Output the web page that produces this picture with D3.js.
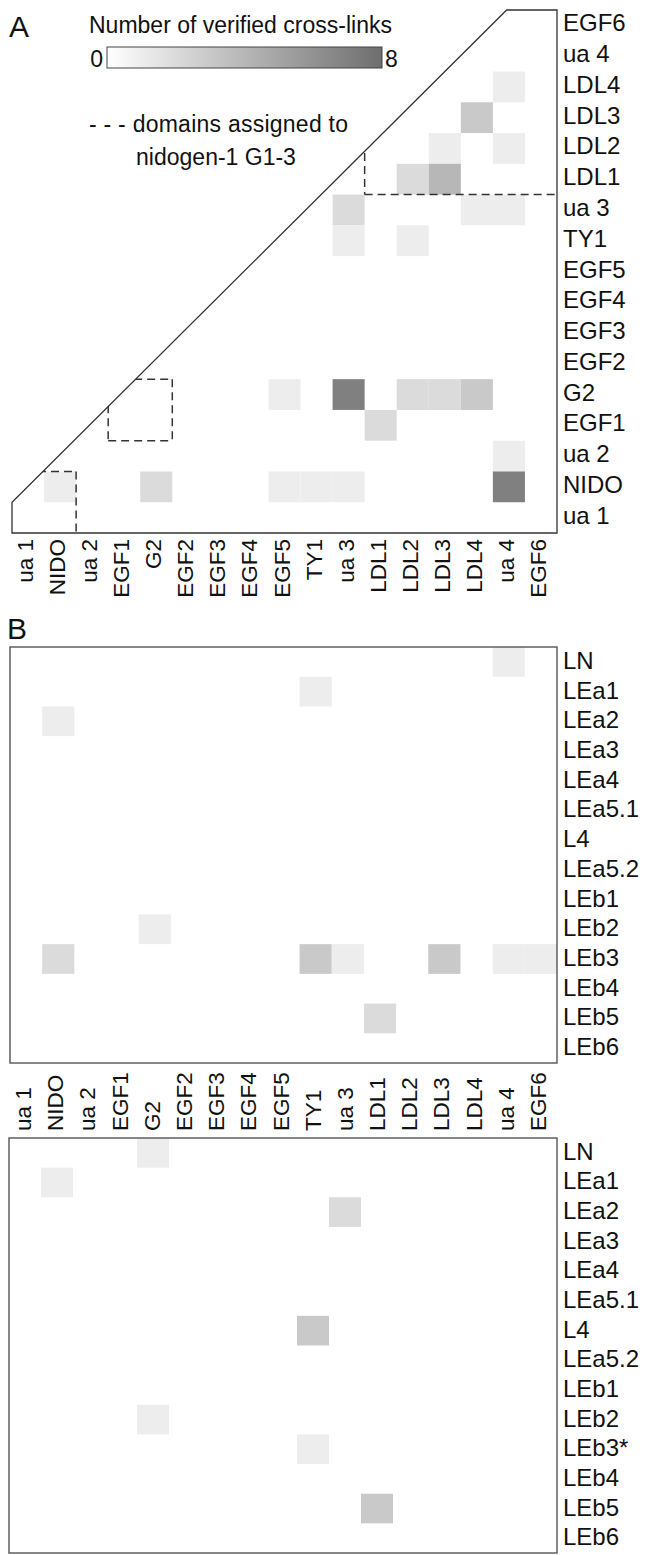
<!DOCTYPE html>
<html>
<head>
<meta charset="utf-8">
<script src="https://cdn.jsdelivr.net/npm/d3@7"></script>
<style>
  html, body { margin: 0; padding: 0; background: #fff; }
  svg { display: block; font-family: "Liberation Sans", Arial, Helvetica, sans-serif; }
</style>
</head>
<body>
<svg id="chart" width="646" height="1555"></svg>
<script>
// ---------- DATA ----------
const nidoDomains = ["ua 1","NIDO","ua 2","EGF1","G2","EGF2","EGF3","EGF4","EGF5","TY1","ua 3","LDL1","LDL2","LDL3","LDL4","ua 4","EGF6"];
const nidoRows = nidoDomains.slice().reverse();
const lamRowsTop = ["LN","LEa1","LEa2","LEa3","LEa4","LEa5.1","L4","LEa5.2","LEb1","LEb2","LEb3","LEb4","LEb5","LEb6"];
const lamRowsBottom = ["LN","LEa1","LEa2","LEa3","LEa4","LEa5.1","L4","LEa5.2","LEb1","LEb2","LEb3*","LEb4","LEb5","LEb6"];

// [row, column, number of verified cross-links]
const linksA = [
  ["LDL4","ua 4",1],
  ["LDL3","LDL4",3],
  ["LDL2","LDL3",1],["LDL2","ua 4",1],
  ["LDL1","LDL2",2],["LDL1","LDL3",4],
  ["ua 3","ua 3",2],["ua 3","LDL4",1],["ua 3","ua 4",1],
  ["TY1","ua 3",1],["TY1","LDL2",1],
  ["G2","EGF5",1],["G2","ua 3",7],["G2","LDL2",2],["G2","LDL3",2],["G2","LDL4",3],
  ["EGF1","LDL1",2],
  ["ua 2","ua 4",1],
  ["NIDO","NIDO",1],["NIDO","G2",2],["NIDO","EGF5",1],["NIDO","TY1",1],["NIDO","ua 3",1],["NIDO","ua 4",7]
];
const linksBTop = [
  ["LN","ua 4",1],["LEa1","TY1",1],["LEa2","NIDO",1],["LEb2","G2",1],
  ["LEb3","NIDO",2],["LEb3","TY1",3],["LEb3","ua 3",1],["LEb3","LDL3",3],["LEb3","ua 4",1],["LEb3","EGF6",1],
  ["LEb5","LDL1",2]
];
const linksBBottom = [
  ["LN","G2",1],["LEa1","NIDO",1],["LEa2","ua 3",2],["L4","TY1",3],
  ["LEb2","G2",1],["LEb3*","TY1",1],["LEb5","LDL1",3]
];
// nidogen-1 G1-3 domain groups: [first col, last col, top row, bottom row]
const globules = [
  ["ua 1","NIDO","NIDO","ua 1"],
  ["EGF1","G2","G2","EGF1"],
  ["LDL1","EGF6","EGF6","LDL1"]
];
const legendMin = 0, legendMax = 8;
const legendTitle = "Number of verified cross-links";
const legendDash = "- - - domains assigned to";
const legendDash2 = "nidogen-1 G1-3";

// ---------- DRAWING ----------
const svg = d3.select("#chart");
const color = d3.scaleLinear().domain([legendMin, legendMax]).range(["#ffffff", "#6e6e6e"]);
const txt = "#111";
const rowFont = 24, colFont = 22.5;

// Panel A scales
const A = {x0: 12, x1: 557, y0: 10, y1: 533};
const xA = d3.scaleBand().domain(nidoDomains).range([A.x0, A.x1]);
const yA = d3.scaleBand().domain(nidoRows).range([A.y0, A.y1]);

// triangle outline polygon
const diagBottomY = yA("ua 1");
const diagTopX = xA("ua 4") + xA.bandwidth() * 0.43;
const poly = [[A.x0, A.y1],[A.x0, diagBottomY],[diagTopX, A.y0],[A.x1, A.y0],[A.x1, A.y1]];

const defs = svg.append("defs");
defs.append("clipPath").attr("id","triClip")
  .append("polygon").attr("points", poly.map(p => p.join(",")).join(" "));

const gA = svg.append("g");
gA.append("g").attr("clip-path","url(#triClip)")
  .selectAll("rect").data(linksA).join("rect")
  .attr("x", d => xA(d[1])).attr("y", d => yA(d[0]))
  .attr("width", xA.bandwidth()).attr("height", yA.bandwidth())
  .attr("fill", d => color(d[2]));

// dashed boxes
const dashG = gA.append("g").attr("clip-path","url(#triClip)");
globules.forEach(g => {
  const xl = xA(g[0]), xr = xA(g[1]) + xA.bandwidth();
  const yt = yA(g[2]), yb = yA(g[3]) + yA.bandwidth();
  const segs = [];
  if (xl > A.x0 + 1) segs.push([[xl, yt],[xl, yb]]);
  if (yt > A.y0 + 1) segs.push([[xl, yt],[xr, yt]]);
  if (xr < A.x1 - 1) segs.push([[xr, yt],[xr, yb]]);
  if (yb < A.y1 - 1) segs.push([[xl, yb],[xr, yb]]);
  segs.forEach(s => dashG.append("line")
    .attr("x1", s[0][0]).attr("y1", s[0][1]).attr("x2", s[1][0]).attr("y2", s[1][1])
    .attr("stroke", "#333").attr("stroke-width", 1.5).attr("stroke-dasharray", "8,5"));
});

gA.append("polygon").attr("points", poly.map(p => p.join(",")).join(" "))
  .attr("fill","none").attr("stroke","#333").attr("stroke-width",1.3);

// row labels A
gA.append("g").selectAll("text").data(nidoRows).join("text")
  .attr("x", A.x1 + 6).attr("y", d => yA(d) + yA.bandwidth()/2 + 6)
  .attr("font-size", rowFont).attr("fill", txt).text(d => d);

// column labels A
gA.append("g").selectAll("text").data(nidoDomains).join("text")
  .attr("transform", d => `translate(${xA(d) + xA.bandwidth()/2 + 5},${A.y1 + 6}) rotate(-90)`)
  .attr("text-anchor","end").attr("font-size", colFont).attr("fill", txt).text(d => d);

// Panel letter + legend
svg.append("text").attr("x", 9).attr("y", 37).attr("font-size", 30).attr("fill", txt).text("A");
svg.append("text").attr("x", 89).attr("y", 33).attr("font-size", 23).attr("fill", txt).text(legendTitle);
const grad = defs.append("linearGradient").attr("id","lg").attr("x1","0%").attr("x2","100%");
grad.append("stop").attr("offset","0%").attr("stop-color", color(legendMin));
grad.append("stop").attr("offset","100%").attr("stop-color", color(legendMax));
const legX = d3.scaleLinear().domain([legendMin, legendMax]).range([107, 382]);
svg.append("rect").attr("x", legX(legendMin)).attr("y", 47).attr("width", legX(legendMax) - legX(legendMin)).attr("height", 21)
  .attr("fill","url(#lg)").attr("stroke","#444").attr("stroke-width",1);
svg.append("text").attr("x", legX(legendMin) - 4).attr("y", 67).attr("text-anchor","end").attr("font-size", 23).attr("fill", txt).text(legendMin);
svg.append("text").attr("x", legX(legendMax) + 3).attr("y", 67).attr("font-size", 23).attr("fill", txt).text(legendMax);
svg.append("text").attr("x", 89).attr("y", 132).attr("font-size", 23).attr("fill", txt)
  .attr("textLength", 259).attr("lengthAdjust", "spacing").text(legendDash);
svg.append("text").attr("x", 216).attr("y", 165).attr("text-anchor","middle").attr("font-size", 23).attr("fill", txt).text(legendDash2);

// ---------- Panel B ----------
svg.append("text").attr("x", 7).attr("y", 639).attr("font-size", 30).attr("fill", txt).text("B");

function matrix(frame, cellRange, rows, links) {
  const x = d3.scaleBand().domain(nidoDomains).range(cellRange);
  const y = d3.scaleBand().domain(rows).range([frame.y0, frame.y1]);
  const g = svg.append("g");
  g.selectAll("rect.c").data(links).join("rect").attr("class","c")
    .attr("x", d => x(d[1])).attr("y", d => y(d[0]))
    .attr("width", x.bandwidth()).attr("height", y.bandwidth())
    .attr("fill", d => color(d[2]));
  g.append("rect").attr("x", frame.x0).attr("y", frame.y0)
    .attr("width", frame.x1 - frame.x0).attr("height", frame.y1 - frame.y0)
    .attr("fill","none").attr("stroke","#555").attr("stroke-width",1.4);
  g.selectAll("text").data(rows).join("text")
    .attr("x", frame.x1 + 6).attr("y", d => y(d) + y.bandwidth()/2 + 7)
    .attr("font-size", rowFont).attr("fill", txt).text(d => d);
  return x;
}
const B1 = {x0: 10, x1: 557, y0: 647, y1: 1063};
const B2 = {x0: 9, x1: 557, y0: 1138, y1: 1553};
const xB1 = matrix(B1, [B1.x0, B1.x1], lamRowsTop, linksBTop);
matrix(B2, [9, 553], lamRowsBottom, linksBBottom);

// column labels between the two matrices
svg.append("g").selectAll("text").data(nidoDomains).join("text")
  .attr("transform", d => `translate(${xB1(d) + xB1.bandwidth()/2 + 5},${1131}) rotate(-90)`)
  .attr("text-anchor","start").attr("font-size", colFont).attr("fill", txt).text(d => d);
</script>
</body>
</html>
